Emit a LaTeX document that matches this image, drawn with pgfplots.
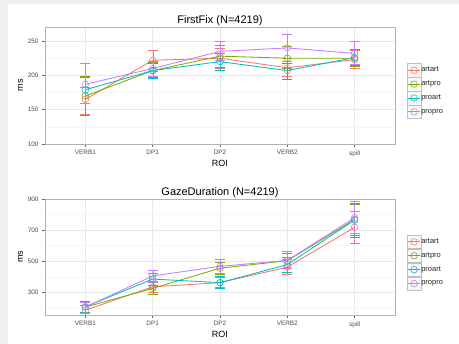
\documentclass[border=0pt]{standalone}
\usepackage{pgfplots}
\pgfplotsset{compat=1.18}
\usepackage{pgfplotstable}
\usepackage{fontspec}
\setmainfont{Liberation Sans}
\definecolor{cA}{HTML}{F8766D}
\definecolor{cB}{HTML}{7CAE00}
\definecolor{cC}{HTML}{00BFC4}
\definecolor{cD}{HTML}{C77CFF}
\definecolor{bggrey}{HTML}{EFEFEF}
\definecolor{gridmaj}{HTML}{E8E8E8}
\definecolor{gridmin}{HTML}{F6F6F6}
\definecolor{ticktext}{HTML}{4D4D4D}

% FirstFix: x y lo hi
\pgfplotstableread{
x y lo hi
0 165 144 182
1 222 206 237
2 225 210 240
3 211 198 225
4 223 210 236
}\ffA
\pgfplotstableread{
x y lo hi
0 170 142 198
1 207 197 219
2 228 212 244
3 225 210 242
4 225 214 238
}\ffB
\pgfplotstableread{
x y lo hi
0 179 159 197
1 207 196 218
2 220 208 232
3 207 195 218
4 226 215 238
}\ffC
\pgfplotstableread{
x y lo hi
0 187 159 217
1 210 198 221
2 235 222 249
3 240 220 260
4 232 216 250
}\ffD
% GazeDuration
\pgfplotstableread{
x y lo hi
0 185 150 218
1 335 300 370
2 362 330 395
3 462 415 510
4 718 616 820
}\gdA
\pgfplotstableread{
x y lo hi
0 205 168 240
1 325 290 362
2 455 415 495
3 503 455 550
4 768 668 868
}\gdB
\pgfplotstableread{
x y lo hi
0 207 170 240
1 385 345 425
2 362 325 400
3 478 430 525
4 765 655 872
}\gdC
\pgfplotstableread{
x y lo hi
0 205 168 237
1 405 365 440
2 467 425 510
3 505 455 565
4 780 680 885
}\gdD

\pgfplotsset{
  rstyle/.style={
    scale only axis, width=350pt,
    xmin=-0.6, xmax=4.6,
    xtick={0,1,2,3,4}, xticklabels={VERB1,DP1,DP2,VERB2,spill},
    xtick pos=left, ytick pos=left,
    axis line style={black!30, line width=0.6pt},
    tick style={black!60, line width=0.5pt},
    tick align=outside, major tick length=3pt, minor tick length=0pt,
    xmajorgrids, ymajorgrids, yminorgrids,
    major grid style={gridmaj, line width=0.5pt},
    minor grid style={gridmin, line width=0.4pt},
    ticklabel style={font=\fontsize{6.4}{7}\selectfont, text=ticktext},
    /pgf/number format/assume math mode=true,
    xlabel={ROI}, ylabel={ms},
    label style={font=\fontsize{9}{10}\selectfont},
    xlabel style={yshift=3pt},
    ylabel style={yshift=-2pt},
    title style={font=\fontsize{11}{12}\selectfont, yshift=-8pt},
    legend style={at={(1.034,0.69)}, anchor=north west, draw=none, fill=none,
      inner sep=0pt, outer sep=0pt,
      nodes={inner sep=0pt, font=\fontsize{7.5}{8}\selectfont, text=black!85},
      /tikz/every even column/.append style={column sep=2pt}},
    legend cell align=left,
    legend image code/.code={
      \draw[black!25, fill=black!3, line width=0.4pt] (0pt,-6.75pt) rectangle (14pt,6.75pt);
      \draw[mark repeat=2, mark phase=2, #1] plot coordinates {(1pt,0pt) (7pt,0pt) (13pt,0pt)};
    },
  },
  sline/.style={color=#1, draw=#1, line width=0.85pt, mark=o, mark size=3.3pt,
    mark options={draw=#1, fill=none, line width=0.55pt},
    error bars/.cd, y dir=both, y explicit,
    error bar style={draw=#1, line width=0.35pt},
    error mark options={draw=#1, line width=0.5pt, mark size=5pt, rotate=90}},
}

\begin{document}
\begin{tikzpicture}
\useasboundingbox (0pt,0pt) rectangle (459pt,344pt);
\fill[bggrey] (0pt,0pt) rectangle (459pt,344pt);
\fill[white] (8pt,0pt) rectangle (459pt,340pt);

\begin{axis}[rstyle, at={(45pt,200pt)}, anchor=south west, height=117pt,
  ymin=100, ymax=270.5, ytick={100,150,200,250}, minor ytick={125,175,225},
  title={FirstFix (N=4219)}]
\addplot[sline=cA] table[x=x, y=y, y error plus expr=\thisrow{hi}-\thisrow{y}, y error minus expr=\thisrow{y}-\thisrow{lo}] {\ffA};
\addplot[sline=cB] table[x=x, y=y, y error plus expr=\thisrow{hi}-\thisrow{y}, y error minus expr=\thisrow{y}-\thisrow{lo}] {\ffB};
\addplot[sline=cC] table[x=x, y=y, y error plus expr=\thisrow{hi}-\thisrow{y}, y error minus expr=\thisrow{y}-\thisrow{lo}] {\ffC};
\addplot[sline=cD] table[x=x, y=y, y error plus expr=\thisrow{hi}-\thisrow{y}, y error minus expr=\thisrow{y}-\thisrow{lo}] {\ffD};
\legend{artart,artpro,proart,propro}
\node[anchor=west, inner sep=0pt, font=\bfseries\fontsize{7.5}{8}\selectfont] at (rel axis cs:1.033,0.744) {cond};
\end{axis}

\begin{axis}[rstyle, at={(45pt,29pt)}, anchor=south west, height=116pt,
  ymin=154, ymax=900, ytick={300,500,700,900}, minor ytick={200,400,600,800},
  title={GazeDuration (N=4219)}]
\addplot[sline=cA] table[x=x, y=y, y error plus expr=\thisrow{hi}-\thisrow{y}, y error minus expr=\thisrow{y}-\thisrow{lo}] {\gdA};
\addplot[sline=cB] table[x=x, y=y, y error plus expr=\thisrow{hi}-\thisrow{y}, y error minus expr=\thisrow{y}-\thisrow{lo}] {\gdB};
\addplot[sline=cC] table[x=x, y=y, y error plus expr=\thisrow{hi}-\thisrow{y}, y error minus expr=\thisrow{y}-\thisrow{lo}] {\gdC};
\addplot[sline=cD] table[x=x, y=y, y error plus expr=\thisrow{hi}-\thisrow{y}, y error minus expr=\thisrow{y}-\thisrow{lo}] {\gdD};
\legend{artart,artpro,proart,propro}
\node[anchor=west, inner sep=0pt, font=\bfseries\fontsize{7.5}{8}\selectfont] at (rel axis cs:1.033,0.747) {cond};
\end{axis}
\end{tikzpicture}
\end{document}
